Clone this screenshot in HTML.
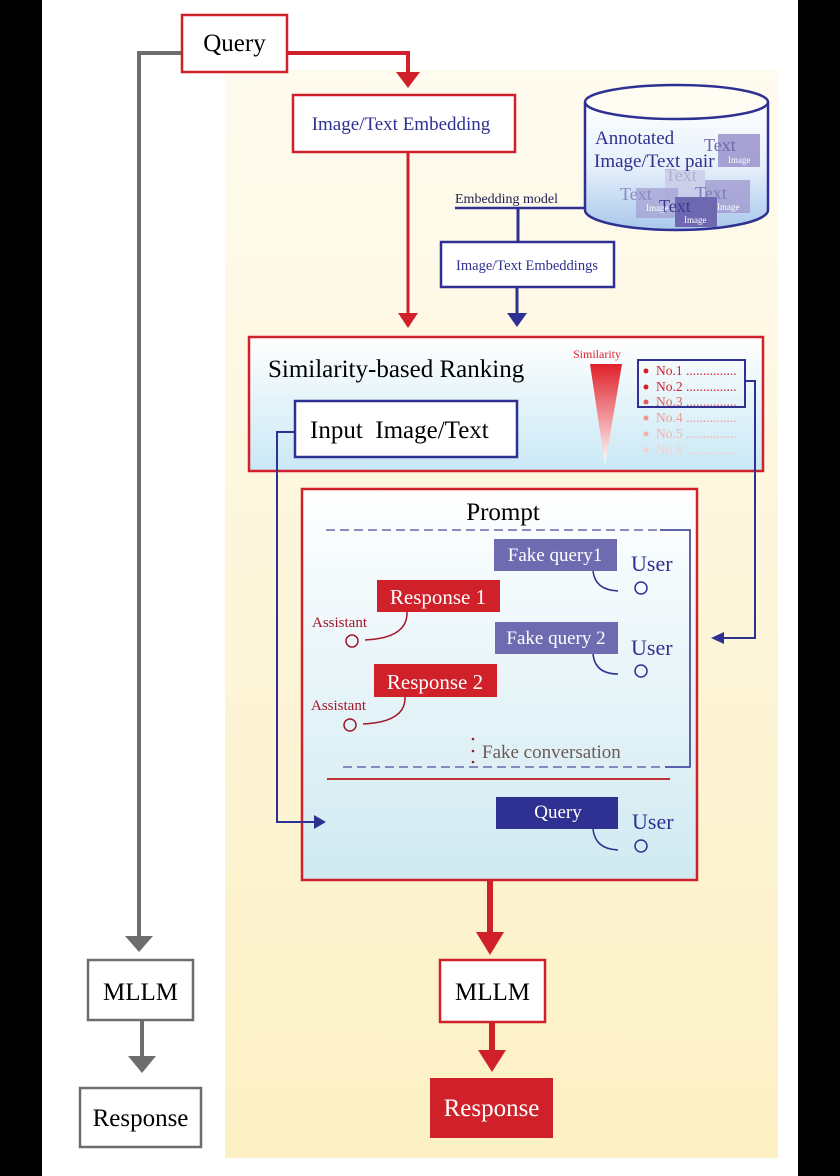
<!DOCTYPE html>
<html><head><meta charset="utf-8"><style>
html,body{margin:0;padding:0;background:#000;}
svg{display:block;font-family:"Liberation Serif",serif;}
</style></head><body>
<svg width="840" height="1176" viewBox="0 0 840 1176" xmlns="http://www.w3.org/2000/svg">
<defs>
<linearGradient id="yel" x1="0" y1="0" x2="0" y2="1"><stop offset="0" stop-color="#fefbef"/><stop offset="1" stop-color="#fcf0c4"/></linearGradient>
<linearGradient id="blu" x1="0" y1="0" x2="0" y2="1"><stop offset="0" stop-color="#ffffff"/><stop offset="1" stop-color="#c9e8f5"/></linearGradient>
<linearGradient id="blu2" x1="0" y1="0" x2="0" y2="1"><stop offset="0" stop-color="#ffffff"/><stop offset="1" stop-color="#d0eaf2"/></linearGradient>
<linearGradient id="cyl" x1="0" y1="0" x2="0" y2="1"><stop offset="0" stop-color="#ffffff"/><stop offset="0.5" stop-color="#e6f0fa"/><stop offset="1" stop-color="#a9c8ec"/></linearGradient>
<linearGradient id="tri" x1="0" y1="0" x2="0" y2="1"><stop offset="0" stop-color="#e0202a"/><stop offset="1" stop-color="#ffffff"/></linearGradient>
</defs>
<rect x="42" y="0" width="756" height="1176" fill="#fff"/>
<rect x="225" y="70" width="553" height="1088" fill="url(#yel)"/>

<polyline points="182,53 139,53 139,938" fill="none" stroke="#6d6d6d" stroke-width="4"/>
<polygon points="125,936 153,936 139,952" fill="#6d6d6d"/>
<rect x="88" y="960" width="105" height="60" fill="#fff" stroke="#6d6d6d" stroke-width="2.5"/>
<text x="140.5" y="1000" font-size="25" text-anchor="middle">MLLM</text>
<line x1="142" y1="1021" x2="142" y2="1058" stroke="#6d6d6d" stroke-width="4"/>
<polygon points="128,1056 156,1056 142,1073" fill="#6d6d6d"/>
<rect x="80" y="1088" width="121" height="59" fill="#fff" stroke="#6d6d6d" stroke-width="2.5"/>
<text x="140.5" y="1126" font-size="25" text-anchor="middle">Response</text>

<polyline points="287,53 408,53 408,75" fill="none" stroke="#d0202a" stroke-width="4"/>
<polygon points="396,72 420,72 408,88" fill="#d0202a"/>
<rect x="182" y="15" width="105" height="57" fill="#fff" stroke="#d0202a" stroke-width="2.5"/>
<text x="234.5" y="51" font-size="25" text-anchor="middle">Query</text>

<rect x="293" y="95" width="222" height="57" fill="#fff" stroke="#d0202a" stroke-width="2.5"/>
<text x="401" y="130" font-size="19" fill="#2e3192" text-anchor="middle">Image/Text Embedding</text>
<line x1="408" y1="152" x2="408" y2="315" stroke="#d0202a" stroke-width="3"/>
<polygon points="398,313 418,313 408,328" fill="#d0202a"/>

<path d="M585,102 L585,210 A91.5,20 0 0 0 768,210 L768,102" fill="url(#cyl)" stroke="#2e3192" stroke-width="2.5"/>
<ellipse cx="676.5" cy="102" rx="91.5" ry="17" fill="#fffdf3" stroke="#2e3192" stroke-width="2.5"/>
<g font-size="16">
<rect x="718" y="134" width="42" height="33" fill="#8f86c6" opacity="0.75"/>
<text x="704" y="151" fill="#6d68ad" font-size="18">Text</text>
<text x="728" y="163" fill="#fff" font-size="9">Image</text>
<rect x="665" y="170" width="40" height="30" fill="#c5c2e2" opacity="0.6"/>
<text x="665" y="181" fill="#b0aed3" font-size="18">Text</text>
<rect x="636" y="188" width="42" height="30" fill="#a29ed0" opacity="0.7"/>
<text x="620" y="200" fill="#8c88c4" font-size="18">Text</text>
<rect x="705" y="180" width="45" height="33" fill="#9d96cc" opacity="0.75"/>
<text x="695" y="199" fill="#7f79bf" font-size="18">Text</text>
<text x="717" y="210" fill="#fff" font-size="9">Image</text>
<rect x="675" y="197" width="42" height="30" fill="#6e68b0"/>
<text x="659" y="212" fill="#3e3891" font-size="18">Text</text>
<text x="684" y="223" fill="#fff" font-size="9">Image</text>
<text x="646" y="211" fill="#fff" font-size="9">Image</text>
</g>
<text x="595" y="144" font-size="19" fill="#2e3192">Annotated</text>
<text x="594" y="167" font-size="19" fill="#2e3192">Image/Text pair</text>

<text x="455" y="203" font-size="14" fill="#1e1e50">Embedding model</text>
<line x1="455" y1="208" x2="586" y2="208" stroke="#2e3192" stroke-width="2.5"/>
<line x1="518" y1="208" x2="518" y2="242" stroke="#2e3192" stroke-width="3"/>
<rect x="441" y="242" width="173" height="45" fill="#fff" stroke="#2e3192" stroke-width="2.5"/>
<text x="527" y="270" font-size="14.5" fill="#2e3192" text-anchor="middle">Image/Text Embeddings</text>
<line x1="517" y1="287" x2="517" y2="315" stroke="#2e3192" stroke-width="3"/>
<polygon points="507,313 527,313 517,327" fill="#2e3192"/>

<rect x="249" y="337" width="514" height="134" fill="url(#blu)" stroke="#d0202a" stroke-width="2.5"/>
<text x="268" y="377" font-size="25">Similarity-based Ranking</text>
<rect x="295" y="401" width="222" height="56" fill="#fff" stroke="#2e3192" stroke-width="2.5"/>
<text x="310" y="438" font-size="25" xml:space="preserve">Input  Image/Text</text>
<text x="573" y="358" font-size="12" fill="#e0202a">Similarity</text>
<polygon points="590,364 622,364 605,465" fill="url(#tri)"/>
<rect x="638" y="360" width="107" height="47" fill="none" stroke="#2e3192" stroke-width="2"/>
<g font-size="13.5">
<circle cx="646" cy="371" r="2.5" fill="#d0202a"/><text x="656" y="375" fill="#d0202a">No.1 ...............</text>
<circle cx="646" cy="387" r="2.5" fill="#d0202a"/><text x="656" y="391" fill="#d0202a">No.2 ...............</text>
<circle cx="646" cy="402" r="2.5" fill="#e06060"/><text x="656" y="406" fill="#e06060">No.3 ...............</text>
<circle cx="646" cy="418" r="2.5" fill="#ee9a90"/><text x="656" y="422" fill="#ee9a90">No.4 ...............</text>
<circle cx="646" cy="434" r="2.5" fill="#f3b3aa"/><text x="656" y="438" fill="#f3b3aa">No.5 ...............</text>
<circle cx="646" cy="450" r="2.5" fill="#f7cfc8"/><text x="656" y="454" fill="#f7cfc8">No.6 ...............</text>
</g>
<polyline points="745,381 755,381 755,638 722,638" fill="none" stroke="#2e3192" stroke-width="2"/>
<polygon points="724,632 724,644 711,638" fill="#2e3192"/>

<rect x="302" y="489" width="395" height="391" fill="url(#blu2)" stroke="#d0202a" stroke-width="2.5"/>
<polyline points="295,432 277,432 277,822 315,822" fill="none" stroke="#2e3192" stroke-width="2"/>
<polygon points="314,815 314,829 326,822" fill="#2e3192"/>
<text x="503" y="520" font-size="25" text-anchor="middle">Prompt</text>
<line x1="326" y1="530" x2="660" y2="530" stroke="#6668a8" stroke-width="1.5" stroke-dasharray="9,5"/>
<polyline points="660,530 690,530 690,767 665,767" fill="none" stroke="#2e3192" stroke-width="1.5"/>
<line x1="343" y1="767" x2="665" y2="767" stroke="#6668a8" stroke-width="1.5" stroke-dasharray="9,5"/>
<line x1="327" y1="779" x2="670" y2="779" stroke="#c03030" stroke-width="2"/>

<g font-size="19">
<rect x="494" y="539" width="123" height="32" fill="#6e6bb0"/>
<text x="555" y="561" fill="#fff" text-anchor="middle">Fake query1</text>
<text x="631" y="571" font-size="22" fill="#2e3192">User</text>
<path d="M593,571 Q595,590 618,591" fill="none" stroke="#2e3192" stroke-width="1.5"/>
<circle cx="641" cy="588" r="6" fill="none" stroke="#2e3192" stroke-width="1.5"/>

<rect x="377" y="580" width="123" height="32" fill="#d0202a"/>
<text x="438" y="604" fill="#fff" text-anchor="middle" font-size="21">Response 1</text>
<text x="312" y="627" font-size="15" fill="#a0182a">Assistant</text>
<path d="M407,612 Q408,638 365,640" fill="none" stroke="#a0182a" stroke-width="1.5"/>
<circle cx="352" cy="641" r="6" fill="none" stroke="#a0182a" stroke-width="1.5"/>

<rect x="495" y="622" width="123" height="32" fill="#6e6bb0"/>
<text x="556" y="644" fill="#fff" text-anchor="middle">Fake query 2</text>
<text x="631" y="655" font-size="22" fill="#2e3192">User</text>
<path d="M593,654 Q595,674 618,674" fill="none" stroke="#2e3192" stroke-width="1.5"/>
<circle cx="641" cy="671" r="6" fill="none" stroke="#2e3192" stroke-width="1.5"/>

<rect x="374" y="664" width="123" height="33" fill="#d0202a"/>
<text x="435" y="689" fill="#fff" text-anchor="middle" font-size="21">Response 2</text>
<text x="311" y="710" font-size="15" fill="#a0182a">Assistant</text>
<path d="M405,697 Q406,722 363,724" fill="none" stroke="#a0182a" stroke-width="1.5"/>
<circle cx="350" cy="725" r="6" fill="none" stroke="#a0182a" stroke-width="1.5"/>

<circle cx="473" cy="739" r="1.3" fill="#a0182a"/><circle cx="473" cy="751" r="1.3" fill="#a0182a"/><circle cx="473" cy="762" r="1.3" fill="#a0182a"/>
<text x="482" y="758" fill="#6a5a55">Fake conversation</text>

<rect x="496" y="797" width="122" height="32" fill="#2e3192"/>
<text x="558" y="818" fill="#fff" text-anchor="middle">Query</text>
<text x="632" y="829" font-size="22" fill="#2e3192">User</text>
<path d="M593,829 Q595,849 618,850" fill="none" stroke="#2e3192" stroke-width="1.5"/>
<circle cx="641" cy="846" r="6" fill="none" stroke="#2e3192" stroke-width="1.5"/>
</g>

<line x1="490" y1="881" x2="490" y2="935" stroke="#d0202a" stroke-width="6"/>
<polygon points="476,932 504,932 490,955" fill="#d0202a"/>
<rect x="440" y="960" width="105" height="62" fill="#fff" stroke="#d0202a" stroke-width="2.5"/>
<text x="492.5" y="1000" font-size="25" text-anchor="middle">MLLM</text>
<line x1="492" y1="1022" x2="492" y2="1055" stroke="#d0202a" stroke-width="6"/>
<polygon points="478,1050 506,1050 492,1072" fill="#d0202a"/>
<rect x="430" y="1078" width="123" height="60" fill="#d0202a"/>
<text x="491.5" y="1116" font-size="25" fill="#fff" text-anchor="middle">Response</text>
</svg>
</body></html>
